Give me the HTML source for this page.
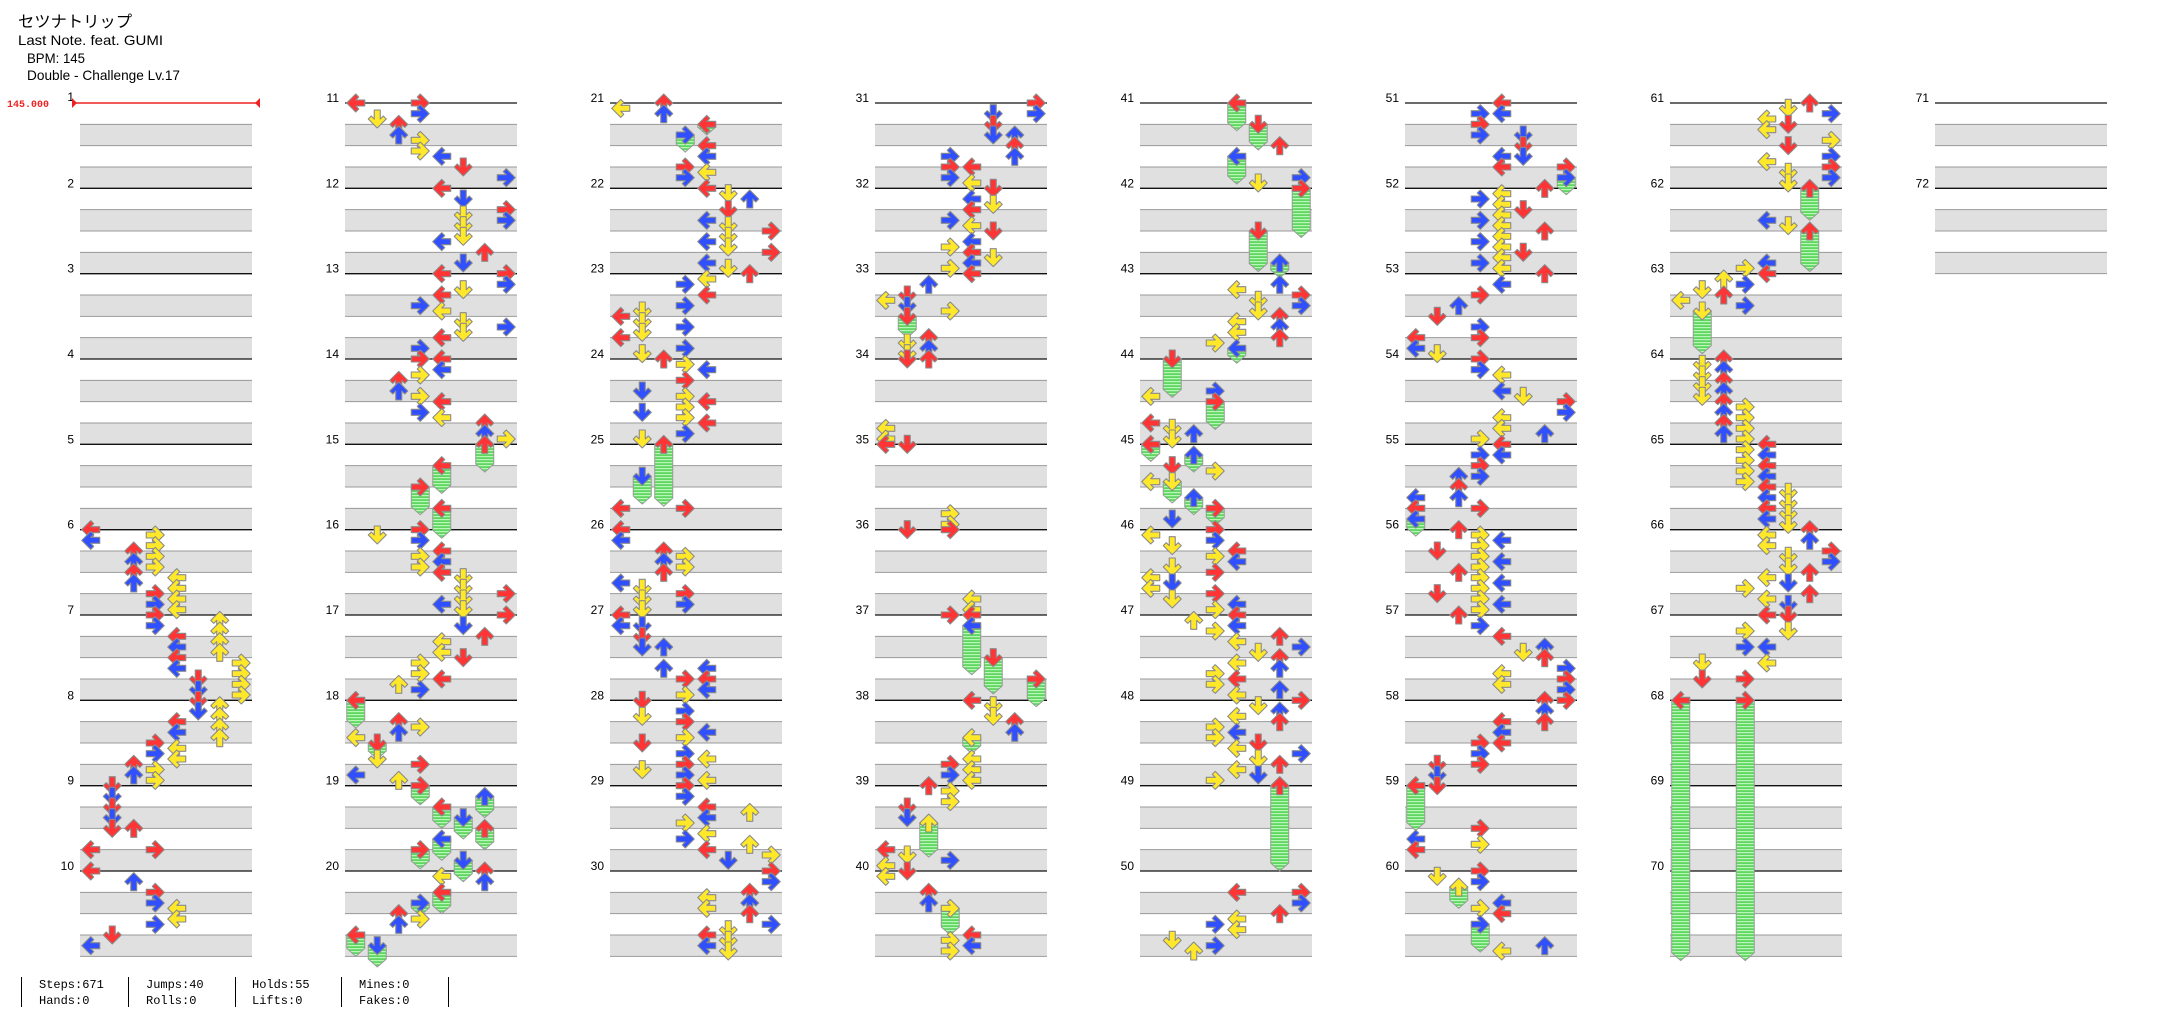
<!DOCTYPE html>
<html><head><meta charset="utf-8">
<style>
html,body{margin:0;padding:0;background:#fff;width:2172px;height:1024px;overflow:hidden}
svg{display:block}
</style></head>
<body>
<svg id="s" xmlns="http://www.w3.org/2000/svg" width="2172" height="1024" viewBox="0 0 2172 1024">
<defs>
<pattern id="hp" width="8" height="3" patternUnits="userSpaceOnUse"><rect width="8" height="3" fill="#5fd65f"/><rect width="8" height="1.2" fill="#b9f7b9"/></pattern>
</defs>
<g id="grid"></g>
<g font-family="'Liberation Sans','Noto Sans CJK JP',sans-serif" fill="#000">
<text x="18" y="27" font-size="16" textLength="114" lengthAdjust="spacingAndGlyphs">セツナトリップ</text>
<text x="18" y="45" font-size="14" textLength="145" lengthAdjust="spacingAndGlyphs">Last Note. feat. GUMI</text>
<text x="27" y="63" font-size="14" textLength="58" lengthAdjust="spacingAndGlyphs">BPM: 145</text>
<text x="27" y="80" font-size="14" textLength="153" lengthAdjust="spacingAndGlyphs">Double - Challenge Lv.17</text>
</g>
<text x="7" y="107" font-family="'Liberation Mono',monospace" font-size="10" font-weight="bold" fill="#ee2222">145.000</text>
<g font-family="'Liberation Sans',sans-serif" font-size="12" text-anchor="end" fill="#000">
<text x="74" y="101">1</text><text x="74" y="187.3">2</text><text x="74" y="272.7">3</text><text x="74" y="358">4</text><text x="74" y="443.3">5</text><text x="74" y="528.7">6</text><text x="74" y="614">7</text><text x="74" y="699.3">8</text><text x="74" y="784.7">9</text><text x="74" y="870">10</text>
<text x="339" y="102">11</text><text x="339" y="187.3">12</text><text x="339" y="272.7">13</text><text x="339" y="358">14</text><text x="339" y="443.3">15</text><text x="339" y="528.7">16</text><text x="339" y="614">17</text><text x="339" y="699.3">18</text><text x="339" y="784.7">19</text><text x="339" y="870">20</text>
<text x="604" y="102">21</text><text x="604" y="187.3">22</text><text x="604" y="272.7">23</text><text x="604" y="358">24</text><text x="604" y="443.3">25</text><text x="604" y="528.7">26</text><text x="604" y="614">27</text><text x="604" y="699.3">28</text><text x="604" y="784.7">29</text><text x="604" y="870">30</text>
<text x="869" y="102">31</text><text x="869" y="187.3">32</text><text x="869" y="272.7">33</text><text x="869" y="358">34</text><text x="869" y="443.3">35</text><text x="869" y="528.7">36</text><text x="869" y="614">37</text><text x="869" y="699.3">38</text><text x="869" y="784.7">39</text><text x="869" y="870">40</text>
<text x="1134" y="102">41</text><text x="1134" y="187.3">42</text><text x="1134" y="272.7">43</text><text x="1134" y="358">44</text><text x="1134" y="443.3">45</text><text x="1134" y="528.7">46</text><text x="1134" y="614">47</text><text x="1134" y="699.3">48</text><text x="1134" y="784.7">49</text><text x="1134" y="870">50</text>
<text x="1399" y="102">51</text><text x="1399" y="187.3">52</text><text x="1399" y="272.7">53</text><text x="1399" y="358">54</text><text x="1399" y="443.3">55</text><text x="1399" y="528.7">56</text><text x="1399" y="614">57</text><text x="1399" y="699.3">58</text><text x="1399" y="784.7">59</text><text x="1399" y="870">60</text>
<text x="1664" y="102">61</text><text x="1664" y="187.3">62</text><text x="1664" y="272.7">63</text><text x="1664" y="358">64</text><text x="1664" y="443.3">65</text><text x="1664" y="528.7">66</text><text x="1664" y="614">67</text><text x="1664" y="699.3">68</text><text x="1664" y="784.7">69</text><text x="1664" y="870">70</text>
<text x="1929" y="102">71</text><text x="1929" y="187.3">72</text>
</g>
<g stroke="#ee2222" fill="#ee2222">
<line x1="72" y1="103" x2="259" y2="103" stroke-width="1.5"/>
<path d="M72,98L77,103L72,108Z" stroke="none"/>
<path d="M260,98L255,103L260,108Z" stroke="none"/>
</g>
<g id="holds"></g>
<g id="notes"></g>
<g stroke="#000" stroke-width="1">
<line x1="21.5" y1="977" x2="21.5" y2="1007"/><line x1="128.5" y1="977" x2="128.5" y2="1007"/><line x1="235.5" y1="977" x2="235.5" y2="1007"/><line x1="341.5" y1="977" x2="341.5" y2="1007"/><line x1="448.5" y1="977" x2="448.5" y2="1007"/>
</g>
<g font-family="'Liberation Mono',monospace" font-size="12" fill="#000">
<text x="39" y="988">Steps:671</text><text x="39" y="1004">Hands:0</text>
<text x="146" y="988">Jumps:40</text><text x="146" y="1004">Rolls:0</text>
<text x="252" y="988">Holds:55</text><text x="252" y="1004">Lifts:0</text>
<text x="359" y="988">Mines:0</text><text x="359" y="1004">Fakes:0</text>
</g>
</svg>
<script>
(function(){
var B=256/3,Q=64/3,g="",h="",n="";
for(var c=0;c<8;c++){var x0=80+265*c,rows=c<7?10:2;
 for(var r=0;r<rows;r++){var y=103+r*B;
  [Q,3*Q].forEach(function(o){
   g+='<rect x="'+x0+'" y="'+(y+o)+'" width="172" height="'+Q+'" fill="#e0e0e0"/>';
   g+='<line x1="'+x0+'" x2="'+(x0+172)+'" y1="'+(y+o)+'" y2="'+(y+o)+'" stroke="#9a9a9a" stroke-width="1"/>';
   g+='<line x1="'+x0+'" x2="'+(x0+172)+'" y1="'+(y+o+Q)+'" y2="'+(y+o+Q)+'" stroke="#9a9a9a" stroke-width="1"/>';
  });
  if(!(c==0&&r==0)) g+='<line x1="'+x0+'" x2="'+(x0+172)+'" y1="'+y+'" y2="'+y+'" stroke="#111" stroke-width="1.3"/>';
 }}
var D="6|0:0,0.5|3:0.25,0.75,1.25,1.75,3,3.5|2:1,1.5,2,2.5|4:2.25,2.75,3.25,3.75\n"+
"7|3:0,0.5|6:0.25,0.75,1.25,1.75|4:1,1.5,2,2.5|7:2.25,2.75,3.25,3.75|5:3,3.5\n"+
"8|5:0,0.5|6:0.25,0.75,1.25,1.75|4:1,1.5,2.25,2.75|3:2,2.5,3.25,3.75|2:3,3.5\n"+
"9|1:0,0.5,1,1.5,2|2:2|0:3|3:3\n"+
"10|0:0|2:0.5|3:1,1.5,2.5|4:1.75,2.25|1:3|0:3.5\n"+
"11|0:0|3:0,0.5,1.75,2.25|1:0.75|2:1,1.5|4:2.5|5:3|7:3.5\n"+
"12|4:0,2.5|5:0.5,1.25,1.75,2.25,3.5|7:1,1.5|6:3\n"+
"13|4:0,1,1.75,3|7:0,0.5,2.5|5:0.75,2.25,2.75|3:1.5,3.5\n"+
"14|3:0,0.75,1.75,2.5|4:0,0.5,2,2.75|2:1,1.5|6:3,3.5|7:3.75\n"+
"15|6:0~1.3|4:1~1.3,3~1.4|3:2~1.3\n"+
"16|1:0.25|3:0,0.5,1.25,1.75|4:1,1.5,2,3.5|5:2.25,2.75,3.25,3.75|7:3\n"+
"17|7:0|5:0.5,2|6:1|4:1.25,1.75,3|3:2.25,2.75,3.5|2:3.25\n"+
"18|0:0~1.3,1.75,3.5|2:1,1.5,3.75|3:1.25,3|1:2~0.75,2.75\n"+
"19|3:0~0.9,3~0.9|6:0.5~1,2~1|4:1~1,2.5~1|5:1.5~1,3.5~1\n"+
"20|6:0,0.5|4:0.25,1~1|3:1.5~0.6,2.25|2:2,2.5|0:3~1|1:3.5~1\n"+
"21|0:0.25|2:0,0.5|4:1~0.5,2,2.5,3.25|3:1.5~0.8,3,3.5\n"+
"22|4:0,1.5,2.5,3.5|5:0.25,1,1.75,2.25,2.75,3.75|6:0.5|7:2,3\n"+
"23|6:0|4:0.25,1|3:0.5,1.5,2.5,3.5|0:2,3|1:1.75,2.25,2.75,3.75\n"+
"24|2:0|3:0.25,1,1.75,2.25,2.75,3.5|4:0.5,2,3|1:1.5,2.5,3.75\n"+
"25|2:0~2.9|1:1.5~1.3|0:3|3:3\n"+
"26|0:0,0.5,2.5|2:1,1.5,2|3:1.25,1.75,3,3.5|1:2.75,3.25,3.75\n"+
"27|0:0,0.5|1:0.5,1,1.5|2:1.5,2.5|4:2.5,3,3.5|3:3,3.75\n"+
"28|1:0,0.75,2,3.25|3:0.5,1,1.75,2.5,3,3.5|4:1.5,2.75,3.75\n"+
"29|3:0,0.5,1.75,2.5|4:1,1.5,2.25,3|6:1.25,2.75|5:3.5|7:3.25\n"+
"30|7:0,0.5,2.5|4:1.25,1.75,3,3.5|6:1,1.5,2|5:2.75,3.25,3.75\n"+
"31|7:0,0.5|5:0.5,1,1.5|6:1.5,2,2.5|3:2.5,3,3.5|4:3,3.75\n"+
"32|5:0,0.75,2,3.25|4:0.5,1,1.75,2.5,3,3.5|3:1.5,2.75,3.75\n"+
"33|4:0|2:0.5,3,3.5|0:1.25|1:1,1.5,2~1,3.25,3.75|3:1.75\n"+
"34|1:0|2:0|0:3.25,3.75\n"+
"35|0:0|1:0|3:3.25,3.75\n"+
"36|3:0|1:0|4:3.25,3.75\n"+
"37|4:0,0.5~2.3|3:0|5:2~1.7|7:3~1.3\n"+
"38|4:0,1.75~0.75,2.75,3.25,3.75|5:0.25,0.75|6:1,1.5|3:3,3.5\n"+
"39|2:0,1.75~1.6|3:0.25,0.75,3.5|1:1,1.5,3.25|0:3,3.75\n"+
"40|1:0|0:0.25|2:1,1.5|3:1.75~1.25,3.25,3.75|4:3,3.5\n"+
"41|4:0~1.3,2.5~1.3|5:1~1.2,3.75|6:2|7:3.5\n"+
"42|7:0~2.3|5:2~1.9|6:3.5~0.7\n"+
"43|6:0.5,2,2.5,3|4:0.75,2.25,2.75,3.5~0.7|5:1.25,1.75|7:1,1.5|3:3.25\n"+
"44|1:0~1.8,3.25,3.75|0:1.75,3|3:1.5,2~1.3|2:3.5\n"+
"45|0:0~0.8,1.75|2:0.5~0.8,2.5~0.8|1:1,1.75~1,3.5|3:1.25,3~0.8\n"+
"46|3:0,0.5,1.25,2,3,3.75|0:0.25,2.25,2.75|1:0.75,1.75,2.5,3.25|4:1,1.5,3.5\n"+
"47|2:0.25|3:0.75,2.75,3.25|4:0,0.5,1.25,2.25,3,3.75|5:1.75|6:1,2,2.5,3.5|7:1.5\n"+
"48|4:0.75,1.5,2.25,3.25|5:0.25,2,2.75,3.5|6:0.5,1,3|7:0,2.5|3:1.25,1.75,3.75\n"+
"49|6:0~4\n"+
"50|4:1,2.25,2.75|7:1,1.5|6:2|3:2.5,3.5|1:3.25|2:3.75\n"+
"51|4:0,0.5,2.5,3|3:0.5,1,1.5|5:1.5,2,2.5|7:3,3.5~0.8\n"+
"52|6:0,2|5:1,3|3:0.5,1.5,2.5,3.5|4:0.25,0.75,1.25,1.75,2.25,2.75,3.25,3.75\n"+
"53|6:0|4:0.5|3:1,2.5,3|2:1.5|1:2,3.75|0:3,3.5\n"+
"54|3:0,0.5,3.75|4:0.75,1.5,2.75,3.25|5:1.75|7:2,2.5|6:3.5\n"+
"55|4:0,0.5|3:0.5,1,1.5,3|2:1.5,2,2.5|0:2.5,3,3.5~0.8\n"+
"56|2:0,2|1:1,3|3:0.25,0.75,1.25,1.75,2.25,2.75,3.25,3.75|4:0.5,1.5,2.5,3.5\n"+
"57|2:0|3:0.5|4:1,2.75,3.25|5:1.75|6:1.5,2|7:2.5,3,3.5\n"+
"58|7:0|6:0,0.5,1|4:1,1.5,2|3:2,2.5,3|1:3,3.5\n"+
"59|1:0|0:0~2.1,2.5,3|3:2,2.75\n"+
"60|3:0,0.5,1.75,2.5~1.3|1:0.25|2:0.75~1|4:1.5,2,3.75|6:3.5\n"+
"61|6:0|5:0.25,1,2,3.25,3.75|7:0.5,1.75,2.5,3,3.5|4:0.75,1.25,2.75\n"+
"62|6:0~1.5,2~1.9|4:1.5,3.5|5:1.75|3:3.75\n"+
"63|4:0|2:0.25,1|3:0.5,1.5|1:0.75,1.75~2|0:1.25\n"+
"64|2:0,0.5,1,1.5,2,2.5,3,3.5|1:0.25,0.75,1.25,1.75|3:2.25,2.75,3.25,3.75\n"+
"65|3:0.25,0.75,1.25,1.75|4:0,0.5,1,1.5,2,2.5,3,3.5|5:2.25,2.75,3.25,3.75\n"+
"66|4:0.25,0.75,2.25,3.25|6:0,0.5,2,3|7:1,1.5|5:1.25,1.75,2.5,3.5|3:2.75\n"+
"67|5:0,0.75|4:0,1.5,2.25|3:0.75,1.5,3|1:2.25,3\n"+
"68|0:0~12.2|3:0~12.2";
var notes=[],holds=[];
D.split("\n").forEach(function(line){
 var p=line.split("|"),m=+p[0],c=Math.floor((m-1)/10),r=(m-1)%10,x0=80+265*c,y0=103+r*B;
 for(var i=1;i<p.length;i++){
  var q=p[i].split(":"),lane=+q[0];
  q[1].split(",").forEach(function(t){
   var s=t.split("~"),b=+s[0],x=x0+10.75+21.5*lane,y=y0+b*Q;
   notes.push({x:x,y:y,l:lane,b:b});
   if(s.length>1) holds.push({x:x,y:y,e:y+(+s[1])*Q});
  });
 }
});
holds.forEach(function(o){
 h+='<path d="M'+(o.x-9)+','+o.y+'L'+(o.x+9)+','+o.y+'L'+(o.x+9)+','+(o.e-8)+'L'+o.x+','+o.e+'L'+(o.x-9)+','+(o.e-8)+'Z" fill="url(#hp)" stroke="#999" stroke-width="1"/>';
});
notes.sort(function(a,b){return a.y-b.y||a.x-b.x;});
var A="M0,-9L9,0L6,3L3,0L3,9L-3,9L-3,0L-6,3L-9,0Z",R=[-90,180,0,90];
notes.forEach(function(o){
 var f=o.b-Math.floor(o.b),col;
 if(f<0.01)col="#ff3535";else if(Math.abs(f-0.5)<0.01)col="#3050ff";else col="#ffe82a";
 n+='<path d="'+A+'" transform="translate('+o.x.toFixed(2)+','+o.y.toFixed(2)+') rotate('+R[o.l%4]+')" fill="'+col+'" stroke="#8a8a8a" stroke-width="1.1" stroke-linejoin="round"/>';
});
document.getElementById("grid").innerHTML=g;
document.getElementById("holds").innerHTML=h;
document.getElementById("notes").innerHTML=n;
})();
</script>
</body></html>
